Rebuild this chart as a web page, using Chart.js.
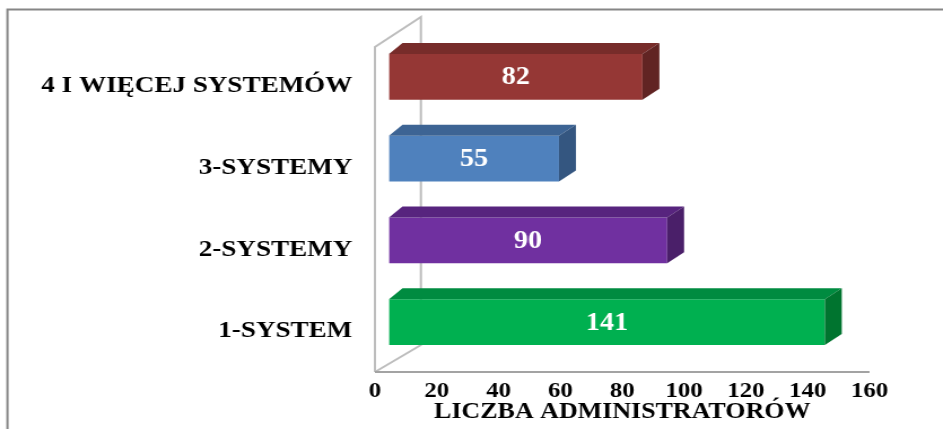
<!DOCTYPE html>
<html>
<head>
<meta charset="utf-8">
<script src="https://cdn.jsdelivr.net/npm/chart.js@4/dist/chart.umd.min.js"></script>
<style>
  html, body { margin: 0; padding: 0; background: #ffffff; overflow: hidden; }
  /* the chart is laid out narrow and widened, which gives the wide serif lettering */
  #wrap { width: 835px; height: 429px; transform: scaleX(1.1293); transform-origin: 0 0; }
</style>
</head>
<body>
<div id="wrap"><canvas id="adminChart" width="835" height="429"></canvas></div>
<script>
// number of administrators by how many systems they look after
const categories = ['4 I WIĘCEJ SYSTEMÓW', '3-SYSTEMY', '2-SYSTEMY', '1-SYSTEM'];
const counts = [82, 55, 90, 141];
const axisMin = 0;
const axisMax = 160;
const axisStep = 20;
const axisTitle = 'LICZBA ADMINISTRATORÓW';

// face colours of each box: front, top, right side
const frontColors = ['#953735', '#4f81bd', '#7030a0', '#00b050'];
const topColors = ['#772c2a', '#3d6494', '#57247e', '#008b40'];
const sideColors = ['#612423', '#345680', '#4a1f69', '#00742f'];

const SERIF = "'Liberation Serif', 'Times New Roman', serif";

// bars sit a little behind the front plane of the 3D box
const BAR_SHIFT_X = 12.4;
const BAR_SHIFT_Y = -9;
const DEPTH_X = 15;
const DEPTH_Y = -11;
const WALL_X = 40.7;

const box3d = {
  id: 'box3d',
  beforeDraw(chart) {
    const { ctx, chartArea: a, scales: { x } } = chart;
    const x0 = x.getPixelForValue(axisMin);
    const x1 = x.getPixelForValue(axisMax);
    ctx.save();
    // outer frame
    ctx.strokeStyle = '#868686';
    ctx.lineWidth = 2;
    ctx.beginPath();
    ctx.moveTo(6.6, chart.height);
    ctx.lineTo(6.6, 9.5);
    ctx.lineTo(chart.width, 9.5);
    ctx.stroke();
    // side wall
    ctx.strokeStyle = '#bdbdbd';
    ctx.lineWidth = 2;
    ctx.beginPath();
    ctx.moveTo(x0, a.bottom);
    ctx.lineTo(x0, a.top + 2);
    ctx.lineTo(x0 + WALL_X, a.top - 28);
    ctx.lineTo(x0 + WALL_X, a.bottom - 27);
    ctx.lineTo(x0, a.bottom);
    ctx.stroke();
    // floor front edge
    ctx.strokeStyle = '#a3a3a3';
    ctx.beginPath();
    ctx.moveTo(x0, a.bottom);
    ctx.lineTo(x1, a.bottom);
    ctx.stroke();
    ctx.restore();
  },
  beforeDatasetDraw(chart) {
    chart.ctx.save();
    chart.ctx.translate(BAR_SHIFT_X, BAR_SHIFT_Y);
  },
  afterDatasetDraw(chart, args) {
    const ctx = chart.ctx;
    args.meta.data.forEach((bar, i) => {
      const { x, y, base, height } = bar.getProps(['x', 'y', 'base', 'height'], true);
      const top = y - height / 2;
      const bottom = y + height / 2;
      // top face
      ctx.fillStyle = topColors[i];
      ctx.beginPath();
      ctx.moveTo(base, top);
      ctx.lineTo(base + DEPTH_X * 0.8, top + DEPTH_Y);
      ctx.lineTo(x + DEPTH_X, top + DEPTH_Y);
      ctx.lineTo(x, top);
      ctx.closePath();
      ctx.fill();
      // right side face
      ctx.fillStyle = sideColors[i];
      ctx.beginPath();
      ctx.moveTo(x, top);
      ctx.lineTo(x + DEPTH_X, top + DEPTH_Y);
      ctx.lineTo(x + DEPTH_X, bottom + DEPTH_Y);
      ctx.lineTo(x, bottom);
      ctx.closePath();
      ctx.fill();
      // value on the front face
      ctx.fillStyle = '#ffffff';
      ctx.font = 'bold 25px ' + SERIF;
      ctx.textAlign = 'center';
      ctx.textBaseline = 'middle';
      ctx.fillText(String(counts[i]), (base + x) / 2, y + 1);
    });
    ctx.restore();
  }
};

new Chart(document.getElementById('adminChart'), {
  type: 'bar',
  data: {
    labels: categories,
    datasets: [{
      data: counts,
      backgroundColor: frontColors,
      borderWidth: 0,
      barPercentage: 0.56,
      categoryPercentage: 1.0
    }]
  },
  options: {
    indexAxis: 'y',
    responsive: false,
    devicePixelRatio: 1,
    animation: false,
    layout: { padding: { top: 45, right: 65, bottom: 0, left: 0 } },
    plugins: {
      legend: { display: false },
      tooltip: { enabled: false }
    },
    scales: {
      x: {
        min: axisMin,
        max: axisMax,
        grid: { display: false, drawTicks: false },
        border: { display: false },
        ticks: {
          stepSize: axisStep,
          padding: 6,
          color: '#000000',
          font: { family: SERIF, size: 22, weight: 'bold' }
        },
        title: {
          display: true,
          text: axisTitle,
          color: '#000000',
          padding: { top: 0, bottom: 3 },
          font: { family: SERIF, size: 23, weight: 'bold' }
        },
        afterFit(scale) { scale.height = 57; }
      },
      y: {
        grid: { display: false, drawTicks: false },
        border: { display: false },
        ticks: {
          padding: 20,
          color: '#000000',
          font: { family: SERIF, size: 24, weight: 'bold' }
        },
        afterFit(scale) { scale.width = 332; }
      }
    }
  },
  plugins: [box3d]
});
</script>
</body>
</html>
